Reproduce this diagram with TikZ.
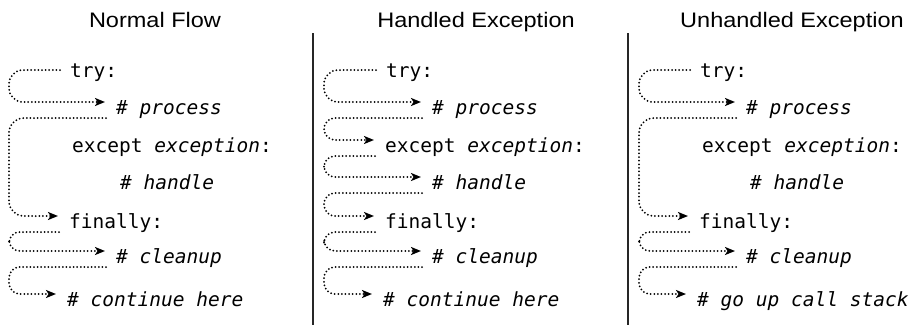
\documentclass[tikz,border=0pt]{standalone}
\usepackage{fontspec}
\usetikzlibrary{arrows.meta,calc}
\newfontfamily\titlefont[FakeStretch=1.12]{Liberation Sans}
\newfontfamily\codefont{DejaVu Sans Mono}

\tikzset{
  coltitle/.style={font=\titlefont\fontsize{21}{25}\selectfont, anchor=base, inner sep=0pt},
  codeline/.style={font=\codefont\fontsize{19.5}{24}\selectfont, anchor=base west, inner sep=0pt},
  flowline/.style={line width=2pt, line cap=round, dash pattern=on 0pt off 3.6pt,
    rounded corners=11pt, -{Stealth[length=10pt,width=8pt,inset=2.5pt]}},
  firstflow/.style={flowline, rounded corners=14pt},
  longflow/.style={flowline, rounded corners=15pt},
  divider/.style={line width=1.6pt, black!85}
}

% dotted loop: leaves #2 at height offset #3, runs round the left margin #5 and points into #4
\newcommand\flowloop[5][flowline]{%
  \path ($(#2.base west)+(-10,#3)$) coordinate (fs)
        ($(#4.base west)+(-11,-12.5)$) coordinate (fe);
  \draw[#1] (fs) -- (fs -| #5) -- (fe -| #5) -- (fe);
}

\begin{document}
\begin{tikzpicture}[x=1pt,y=-1pt]
\useasboundingbox (0,0) rectangle (916,325);

% column headings
\node[coltitle] (tn) at (155,27) {Normal Flow};
\node[coltitle] (th) at (476,27) {Handled Exception};
\node[coltitle] (tu) at (792,27) {Unhandled Exception};

% dividers
\draw[divider] (313,33) -- (313,325);
\draw[divider] (628,33) -- (628,325);

% ---- normal flow ----
\coordinate (aL) at (9,0);
\node[codeline] (atry)   at (70,77.5)   {try:};
\node[codeline] (aproc)  at (116,114.5) {\textit{\# process}};
\node[codeline] (aexc)   at (72,152.5)  {except \textit{exception}:};
\node[codeline] (ahand)  at (120,189.5) {\textit{\# handle}};
\node[codeline] (afin)   at (69,228.5)  {finally:};
\node[codeline] (aclean) at (116,263.5) {\textit{\# cleanup}};
\node[codeline] (alast)  at (67,306.5)  {\textit{\# continue here}};
\flowloop[firstflow]{atry}{-7.5}{aproc}{aL}
\flowloop[longflow]{aproc}{3.5}{afin}{aL}
\flowloop{afin}{3.5}{aclean}{aL}
\flowloop{aclean}{3.5}{alast}{aL}

% ---- handled exception ----
\begin{scope}[xshift=316pt]
\coordinate (bL) at (8,0);
\node[codeline] (btry)   at (70,77.5)   {try:};
\node[codeline] (bproc)  at (116,114.5) {\textit{\# process}};
\node[codeline] (bexc)   at (69,152.5)  {except \textit{exception}:};
\node[codeline] (bhand)  at (116,189.5) {\textit{\# handle}};
\node[codeline] (bfin)   at (69,228.5)  {finally:};
\node[codeline] (bclean) at (116,263.5) {\textit{\# cleanup}};
\node[codeline] (blast)  at (67,306.5)  {\textit{\# continue here}};
\flowloop[firstflow]{btry}{-7.5}{bproc}{bL}
\flowloop{bproc}{3.5}{bexc}{bL}
\flowloop{bexc}{3.5}{bhand}{bL}
\flowloop{bhand}{3.5}{bfin}{bL}
\flowloop{bfin}{3.5}{bclean}{bL}
\flowloop{bclean}{3.5}{blast}{bL}
\end{scope}

% ---- unhandled exception ----
\begin{scope}[xshift=630pt]
\coordinate (cL) at (9,0);
\node[codeline] (ctry)   at (70,77.5)   {try:};
\node[codeline] (cproc)  at (116,114.5) {\textit{\# process}};
\node[codeline] (cexc)   at (72,152.5)  {except \textit{exception}:};
\node[codeline] (chand)  at (120,189.5) {\textit{\# handle}};
\node[codeline] (cfin)   at (69,228.5)  {finally:};
\node[codeline] (cclean) at (116,263.5) {\textit{\# cleanup}};
\node[codeline] (clast)  at (67,306.5)  {\textit{\# go up call stack}};
\flowloop[firstflow]{ctry}{-7.5}{cproc}{cL}
\flowloop[longflow]{cproc}{3.5}{cfin}{cL}
\flowloop{cfin}{3.5}{cclean}{cL}
\flowloop{cclean}{3.5}{clast}{cL}
\end{scope}
\end{tikzpicture}
\end{document}
